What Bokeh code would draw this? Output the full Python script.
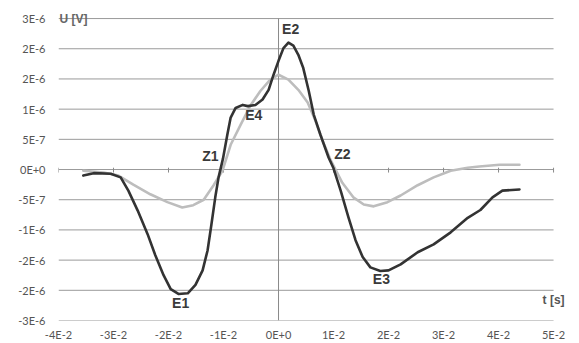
from bokeh.plotting import figure
from bokeh.models import Range1d, FixedTicker, Label
from bokeh.core.properties import value
from bokeh.embed import file_html
from bokeh.resources import INLINE

# ---- data (time in s, voltage in V) ----
dark_t = [-0.0355, -0.0336, -0.0305, -0.0287, -0.0273, -0.0256, -0.0238, -0.0224, -0.0209,
          -0.0196, -0.0182, -0.0165, -0.0151, -0.0138, -0.0129, -0.0122, -0.0115, -0.0109,
          -0.0101, -0.0093, -0.0087, -0.0078, -0.0065, -0.0056, -0.0042, -0.0029, -0.0018,
          -0.0009, 0.0000, 0.0009, 0.0018, 0.0027, 0.0036, 0.0045, 0.0055, 0.0064, 0.0076,
          0.0091, 0.0100, 0.0113, 0.0127, 0.0140, 0.0153, 0.0167, 0.0185, 0.0200, 0.0222,
          0.0253, 0.0282, 0.0313, 0.0344, 0.0367, 0.0389, 0.0407, 0.0438]
dark_u = [-1.0e-7, -0.6e-7, -0.7e-7, -1.3e-7, -3.5e-7, -6.8e-7, -10.7e-7, -14.2e-7, -17.5e-7,
          -19.8e-7, -20.6e-7, -20.5e-7, -19.1e-7, -16.7e-7, -13.4e-7, -9.1e-7, -4.6e-7, -1.3e-7,
          1.8e-7, 5.8e-7, 8.6e-7, 10.2e-7, 10.7e-7, 10.5e-7, 10.7e-7, 11.6e-7, 13.2e-7,
          15.7e-7, 18.0e-7, 20.1e-7, 21.0e-7, 20.5e-7, 19.0e-7, 16.8e-7, 13.0e-7, 9.1e-7, 5.8e-7,
          2.0e-7, 0.2e-7, -3.5e-7, -7.9e-7, -11.7e-7, -14.5e-7, -16.2e-7, -16.8e-7, -16.7e-7, -15.7e-7,
          -13.7e-7, -12.4e-7, -10.4e-7, -8.0e-7, -6.7e-7, -4.6e-7, -3.5e-7, -3.3e-7]

gray_t = [-0.0355, -0.0318, -0.0291, -0.0264, -0.0233, -0.0202, -0.0175, -0.0155, -0.0136,
          -0.0118, -0.0102, -0.0087, -0.0069, -0.0051, -0.0033, -0.0015, 0.0000, 0.0018,
          0.0036, 0.0053, 0.0067, 0.0080, 0.0095, 0.0116, 0.0136, 0.0155, 0.0173, 0.0198,
          0.0222, 0.0253, 0.0282, 0.0313, 0.0344, 0.0365, 0.0402, 0.0438]
gray_u = [-0.2e-7, -0.5e-7, -1.0e-7, -2.5e-7, -4.1e-7, -5.4e-7, -6.3e-7, -5.9e-7, -5.0e-7,
          -2.6e-7, -0.2e-7, 4.1e-7, 7.4e-7, 10.6e-7, 13.0e-7, 14.9e-7, 15.7e-7, 14.9e-7,
          13.2e-7, 11.1e-7, 8.1e-7, 4.8e-7, 1.5e-7, -2.2e-7, -4.6e-7, -5.8e-7, -6.1e-7, -5.4e-7,
          -4.3e-7, -2.6e-7, -1.3e-7, -0.2e-7, 0.3e-7, 0.5e-7, 0.8e-7, 0.8e-7]

ann_text = ["E1", "E2", "E3", "E4", "Z1", "Z2"]
ann_t = [-0.0178, 0.0022, 0.0187, -0.0045, -0.0124, 0.0116]
ann_u = [-22.1e-7, 23.3e-7, -18.2e-7, 9.1e-7, 2.3e-7, 2.5e-7]

x_ticks = [-0.04, -0.03, -0.02, -0.01, 0.0, 0.01, 0.02, 0.03, 0.04, 0.05]
x_tick_labels = ["-4E-2", "-3E-2", "-2E-2", "-1E-2", "0E+0", "1E-2", "2E-2", "3E-2", "4E-2", "5E-2"]
y_ticks = [2.5e-6, 2.0e-6, 1.5e-6, 1.0e-6, 5e-7, 0.0, -5e-7, -1.0e-6, -1.5e-6, -2.0e-6, -2.5e-6]
y_tick_labels = ["3E-6", "2E-6", "2E-6", "1E-6", "5E-7", "0E+0", "-5E-7", "-1E-6", "-2E-6", "-2E-6", "-3E-6"]

# plotting scale: x in 1E-2 s, y in 1E-7 V (integer tick positions)
XS, YS = 100.0, 1e7
sx = lambda a: [round(v * XS, 6) for v in a]
sy = lambda a: [round(v * YS, 6) for v in a]
xt = [int(round(v * XS)) for v in x_ticks]
yt = [int(round(v * YS)) for v in y_ticks]
xmin, xmax = xt[0], xt[-1]
ymin, ymax = min(yt), max(yt)

p = figure(width=579, height=343, output_backend="svg", toolbar_location=None,
           x_range=Range1d(xmin, xmax + 0.29), y_range=Range1d(ymin, ymax + 1.5),
           min_border_left=58, min_border_right=10, min_border_top=9, min_border_bottom=22)
p.outline_line_color = None
p.background_fill_color = "white"
p.border_fill_color = "white"
p.grid.visible = False

# axes
p.xaxis.ticker = FixedTicker(ticks=xt)
p.xaxis.major_label_overrides = {t: l for t, l in zip(xt, x_tick_labels)}
p.yaxis.ticker = FixedTicker(ticks=yt)
p.yaxis.major_label_overrides = {t: l for t, l in zip(yt, y_tick_labels)}
for ax in (p.xaxis[0], p.yaxis[0]):
    ax.axis_line_color = None
    ax.major_tick_line_color = None
    ax.minor_tick_line_color = None
    ax.major_tick_in = 0
    ax.major_tick_out = 0
    ax.minor_tick_in = 0
    ax.minor_tick_out = 0
    ax.major_label_text_font = "Lato"
    ax.major_label_text_font_size = "11px"
    ax.major_label_text_color = "#555555"
p.xaxis.major_label_standoff = 7
p.yaxis.major_label_standoff = 13

# horizontal grid lines (only across the tick span) and the vertical axis at t=0
p.segment(x0=[xmin] * len(yt), x1=[xmax] * len(yt), y0=yt, y1=yt, line_color="#9a9a9a", line_width=1)
p.segment(x0=[0], x1=[0], y0=[ymin], y1=[ymax], line_color="#8a8a8a", line_width=1)

# small tick marks on the zero axis
p.segment(x0=xt, x1=xt, y0=[-0.5] * len(xt), y1=[0.3] * len(xt), line_color="#8a8a8a", line_width=1)

# curves
p.line(sx(gray_t), sy(gray_u), line_color="#bdbdbd", line_width=2.6, line_join="round", line_cap="round")
p.line(sx(dark_t), sy(dark_u), line_color="#333333", line_width=2.6, line_join="round", line_cap="round")

# annotations
p.text(x=sx(ann_t), y=sy(ann_u), text=ann_text, text_align="center", text_baseline="middle",
       text_font=value("Liberation Sans"), text_font_style="bold", text_font_size="14px",
       text_color="#3a3a3a")

p.add_layout(Label(x=xmin, y=ymax, text="U [V]", text_align="left", text_baseline="middle",
                   text_font="Liberation Sans", text_font_style="bold", text_font_size="12px",
                   text_color="#666666", x_offset=1))
p.add_layout(Label(x=xmax, y=-21.6, text="t [s]", text_align="center", text_baseline="middle",
                   text_font="Liberation Sans", text_font_style="bold", text_font_size="12px",
                   text_color="#555555"))

open("out.html", "w").write(file_html(p, INLINE))
